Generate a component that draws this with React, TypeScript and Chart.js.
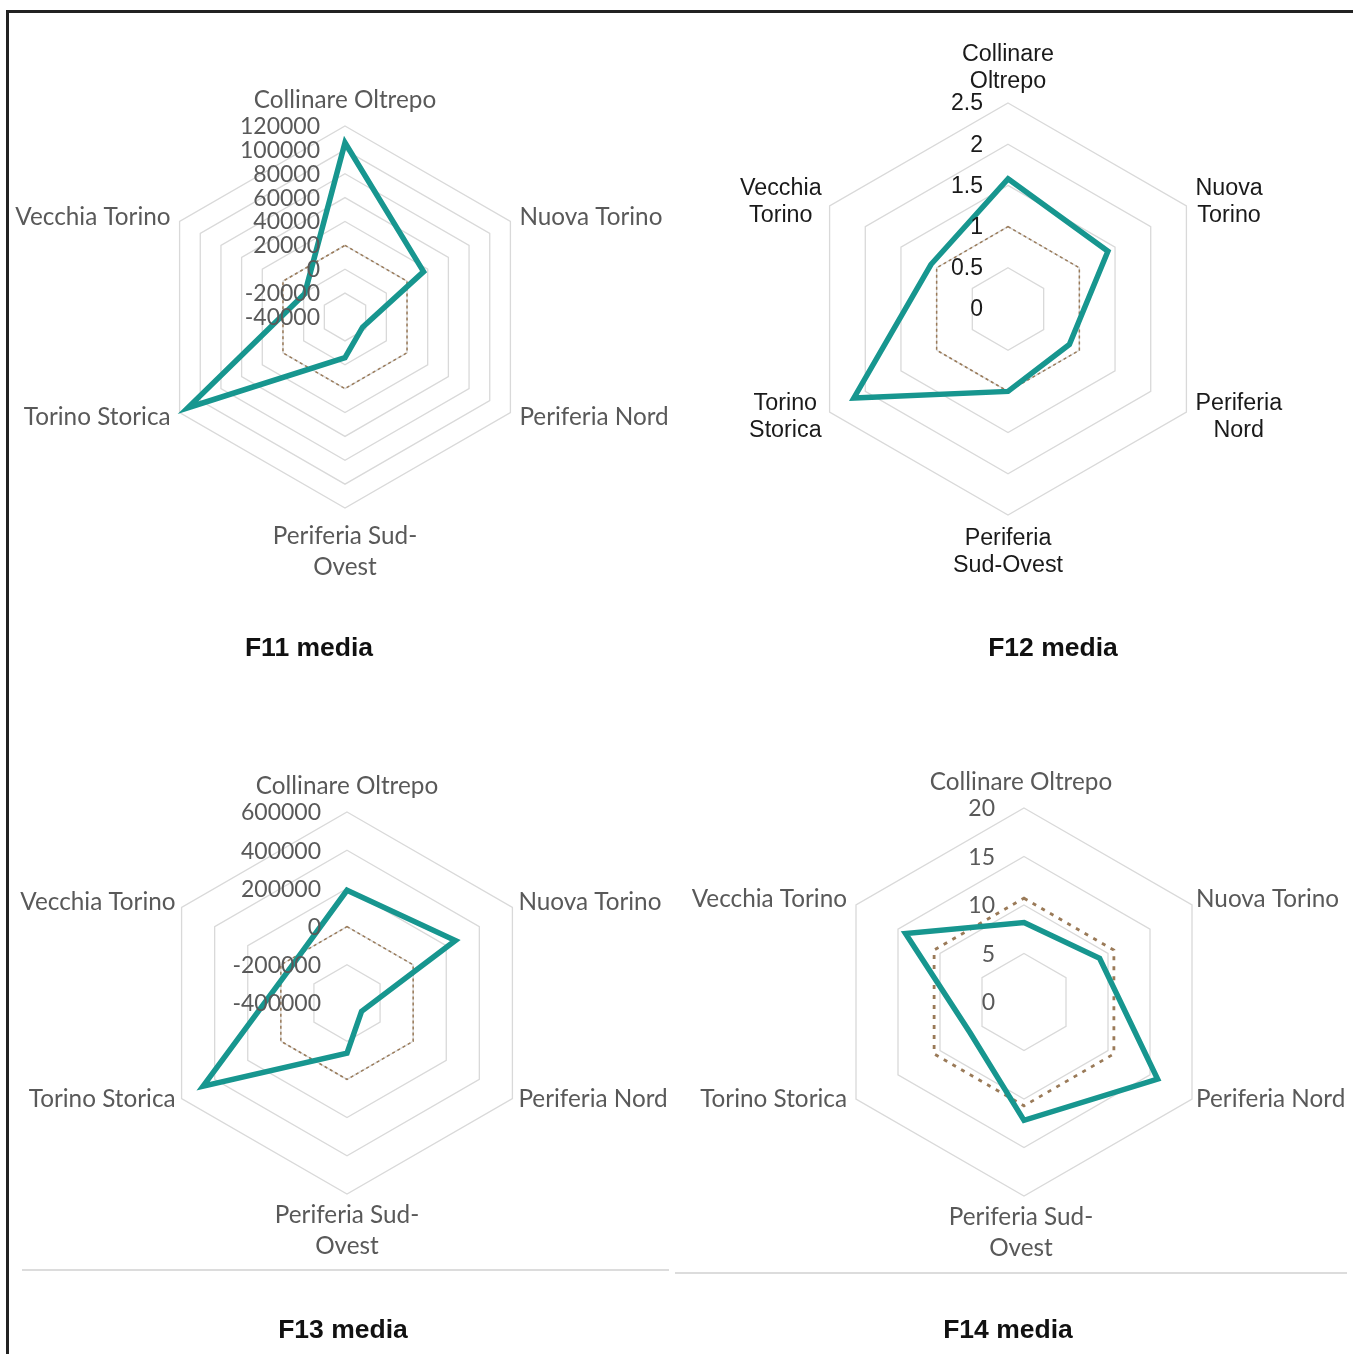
import React, { useEffect, useRef } from 'react';
import { Chart, registerables } from 'chart.js';

Chart.register(...registerables);

// ---------- DATA ----------
const CATEGORIES = [
  'Collinare Oltrepo',
  'Nuova Torino',
  'Periferia Nord',
  'Periferia Sud-Ovest',
  'Torino Storica',
  'Vecchia Torino',
];

const LABELS_ONE_LINE = [
  ['Collinare Oltrepo'],
  ['Nuova Torino'],
  ['Periferia Nord'],
  ['Periferia Sud-', 'Ovest'],
  ['Torino Storica'],
  ['Vecchia Torino'],
];
const LABELS_TWO_LINES = [
  ['Collinare', 'Oltrepo'],
  ['Nuova', 'Torino'],
  ['Periferia', 'Nord'],
  ['Periferia', 'Sud-Ovest'],
  ['Torino', 'Storica'],
  ['Vecchia', 'Torino'],
];

const F11_VALUES = [106000, 36000, -23000, -6000, 112000, -1000];
const F11_REF = [20000, 20000, 20000, 20000, 20000, 20000];
const F11_TICKS = ['-40000', '-20000', '0', '20000', '40000', '60000', '80000', '100000', '120000'];

const F12_VALUES = [1.58, 1.4, 0.86, 1.0, 2.16, 1.08];
const F12_REF = [1, 1, 1, 1, 1, 1];
const F12_TICKS = ['0', '0.5', '1', '1.5', '2', '2.5'];

const F13_VALUES = [190000, 255000, -312000, -137000, 470000, -50000];
const F13_REF = [0, 0, 0, 0, 0, 0];
const F13_TICKS = ['-400000', '-200000', '0', '200000', '400000', '600000'];

const F14_VALUES = [8.2, 9.0, 15.9, 12.2, 6.4, 14.1];
const F14_REF = [10.7, 10.7, 10.7, 10.7, 10.7, 10.7];
const F14_TICKS = ['0', '5', '10', '15', '20'];

const TITLES = ['F11 media', 'F12 media', 'F13 media', 'F14 media'];

// ---------- STYLE ----------
const W = 1353;
const H = 1354;
const TEAL = '#17968f';
const REF_COLOR = '#9a7a58';
const GRID = '#d9d9d9';
const EXCEL_FONT = '"Lato", "Open Sans", sans-serif';
const ARIAL_FONT = '"Liberation Sans", Arial, sans-serif';

type Cfg = {
  id: string;
  values: number[];
  ref: number[];
  ticks: string[];
  min: number;
  max: number;
  step: number;
  cx: number;
  cy: number;
  R: number;
  lines: string[][];
  font: string;
  fontSize: number;
  tickSize: number;
  color: string;
  lh: number;
  topPad: number;
  topDx: number;
  bottomPad: number;
  dxR: number;
  dxL: number;
  upDy: number;
  lowDy: number;
  tickRight: number;
  tickDy: number;
  refWidth: number;
  refDash: number[];
};

const CFGS: Cfg[] = [
  {
    id: 'f11', values: F11_VALUES, ref: F11_REF, ticks: F11_TICKS, min: -40000, max: 120000, step: 20000,
    cx: 345, cy: 317, R: 191, lines: LABELS_ONE_LINE, font: EXCEL_FONT, fontSize: 24.3, tickSize: 23, color: '#595959',
    lh: 31, topPad: 26, topDx: 0, bottomPad: 28, dxR: 9, dxL: 9, upDy: -4, lowDy: 5, tickRight: 25, tickDy: 0.5,
    refWidth: 1.5, refDash: [3, 3],
  },
  {
    id: 'f12', values: F12_VALUES, ref: F12_REF, ticks: F12_TICKS, min: 0, max: 2.5, step: 0.5,
    cx: 1008, cy: 309, R: 206, lines: LABELS_TWO_LINES, font: ARIAL_FONT, fontSize: 23.3, tickSize: 23, color: '#1a1a1a',
    lh: 27, topPad: 21, topDx: 0, bottomPad: 24, dxR: 9, dxL: 8, upDy: -3.5, lowDy: 5.5, tickRight: 25, tickDy: 1,
    refWidth: 1.5, refDash: [3, 3],
  },
  {
    id: 'f13', values: F13_VALUES, ref: F13_REF, ticks: F13_TICKS, min: -400000, max: 600000, step: 200000,
    cx: 347, cy: 1003, R: 191, lines: LABELS_ONE_LINE, font: EXCEL_FONT, fontSize: 24.3, tickSize: 23, color: '#595959',
    lh: 31, topPad: 26, topDx: 0, bottomPad: 21, dxR: 6, dxL: 6, upDy: -5.5, lowDy: 0.5, tickRight: 26, tickDy: 1,
    refWidth: 1.5, refDash: [3, 3],
  },
  {
    id: 'f14', values: F14_VALUES, ref: F14_REF, ticks: F14_TICKS, min: 0, max: 20, step: 5,
    cx: 1024, cy: 1002, R: 194, lines: LABELS_ONE_LINE, font: EXCEL_FONT, fontSize: 24.3, tickSize: 23, color: '#595959',
    lh: 31, topPad: 26, topDx: -3, bottomPad: 21, dxR: 4, dxL: 9, upDy: -6, lowDy: 0, tickRight: 29, tickDy: 1,
    refWidth: 2.8, refDash: [4, 6],
  },
];

function decorPlugin(cfg: Cfg) {
  return {
    id: 'decor_' + cfg.id,
    afterDraw(chart: any) {
      const ctx = chart.ctx;
      const sc = chart.scales.r;
      const R = sc.drawingArea;
      ctx.save();
      // tick labels, right aligned left of the vertical axis
      ctx.font = `${cfg.tickSize}px ${cfg.font}`;
      ctx.fillStyle = cfg.color;
      ctx.textAlign = 'right';
      ctx.textBaseline = 'middle';
      sc.ticks.forEach((t: any, i: number) => {
        const d = sc.getDistanceFromCenterForValue(t.value);
        ctx.fillText(cfg.ticks[i] ?? String(t.value), sc.xCenter - cfg.tickRight, sc.yCenter - d + cfg.tickDy);
      });
      // point labels
      ctx.font = `${cfg.fontSize}px ${cfg.font}`;
      cfg.lines.forEach((lines, i) => {
        const p = sc.getPointPosition(i, R);
        const n = lines.length;
        const angle = (i * 360) / cfg.lines.length;
        if (angle === 0) {
          ctx.textAlign = 'center';
          lines.forEach((t, k) => ctx.fillText(t, p.x + cfg.topDx, p.y - cfg.topPad - (n - 1 - k) * cfg.lh));
        } else if (angle === 180) {
          ctx.textAlign = 'center';
          lines.forEach((t, k) => ctx.fillText(t, p.x + cfg.topDx, p.y + cfg.bottomPad + k * cfg.lh));
        } else {
          const bw = Math.max(...lines.map((t) => ctx.measureText(t).width));
          const right = angle < 180;
          const upper = angle < 90 || angle > 270;
          const blockCenterX = right ? p.x + cfg.dxR + bw / 2 : p.x - cfg.dxL - bw / 2;
          const midY = p.y + (upper ? cfg.upDy : cfg.lowDy);
          ctx.textAlign = 'center';
          lines.forEach((t, k) => ctx.fillText(t, blockCenterX, midY + (k - (n - 1) / 2) * cfg.lh));
        }
      });
      ctx.restore();
    },
  };
}

function RadarPanel({ cfg }: { cfg: Cfg }) {
  const ref = useRef<HTMLCanvasElement | null>(null);
  useEffect(() => {
    const chart = new Chart(ref.current as HTMLCanvasElement, {
      type: 'radar',
      data: {
        labels: CATEGORIES,
        datasets: [
          {
            label: 'media',
            data: cfg.values,
            borderColor: TEAL,
            borderWidth: 5.5,
            pointRadius: 0,
            fill: false,
            tension: 0,
            borderJoinStyle: 'miter',
          } as any,
          {
            label: 'riferimento',
            data: cfg.ref,
            borderColor: REF_COLOR,
            borderWidth: cfg.refWidth,
            borderDash: cfg.refDash,
            pointRadius: 0,
            fill: false,
            tension: 0,
          } as any,
        ],
      },
      options: {
        responsive: false,
        animation: false,
        devicePixelRatio: 1,
        layout: {
          padding: {
            left: cfg.cx - cfg.R,
            top: cfg.cy - cfg.R,
            right: W - cfg.cx - cfg.R,
            bottom: H - cfg.cy - cfg.R,
          },
        },
        plugins: { legend: { display: false }, tooltip: { enabled: false } },
        scales: {
          r: {
            min: cfg.min,
            max: cfg.max,
            ticks: { stepSize: cfg.step, display: false },
            grid: { color: GRID, lineWidth: 1.3 },
            angleLines: { display: false },
            pointLabels: { display: false },
          },
        },
      } as any,
      plugins: [decorPlugin(cfg)],
    });
    return () => chart.destroy();
  }, [cfg]);
  return (
    <canvas
      ref={ref}
      width={W}
      height={H}
      style={{ position: 'absolute', left: 0, top: 0, width: W, height: H }}
    />
  );
}

const TITLE_POS = [
  { x: 309, y: 647 },
  { x: 1053, y: 647 },
  { x: 343, y: 1329 },
  { x: 1008, y: 1329 },
];

export default function App() {
  return (
    <div style={{ position: 'absolute', left: 0, top: 0, width: W, height: H, background: '#fff', overflow: 'hidden' }}>
      {/* frame */}
      <div style={{ position: 'absolute', left: 6, top: 10, width: W - 6, height: 3, background: '#222' }} />
      <div style={{ position: 'absolute', left: 6, top: 10, width: 3, height: H - 10, background: '#222' }} />
      {/* separators */}
      <div style={{ position: 'absolute', left: 22, top: 1269, width: 647, height: 2, background: '#dcdcdc' }} />
      <div style={{ position: 'absolute', left: 675, top: 1272, width: 672, height: 2, background: '#dcdcdc' }} />
      {CFGS.map((c) => (
        <RadarPanel key={c.id} cfg={c} />
      ))}
      {TITLES.map((t, i) => (
        <div
          key={t}
          style={{
            position: 'absolute',
            left: TITLE_POS[i].x - 200,
            width: 400,
            top: TITLE_POS[i].y - 15,
            height: 30,
            lineHeight: '30px',
            textAlign: 'center',
            font: `bold 26.5px ${ARIAL_FONT}`,
            color: '#111',
          }}
        >
          {t}
        </div>
      ))}
    </div>
  );
}
